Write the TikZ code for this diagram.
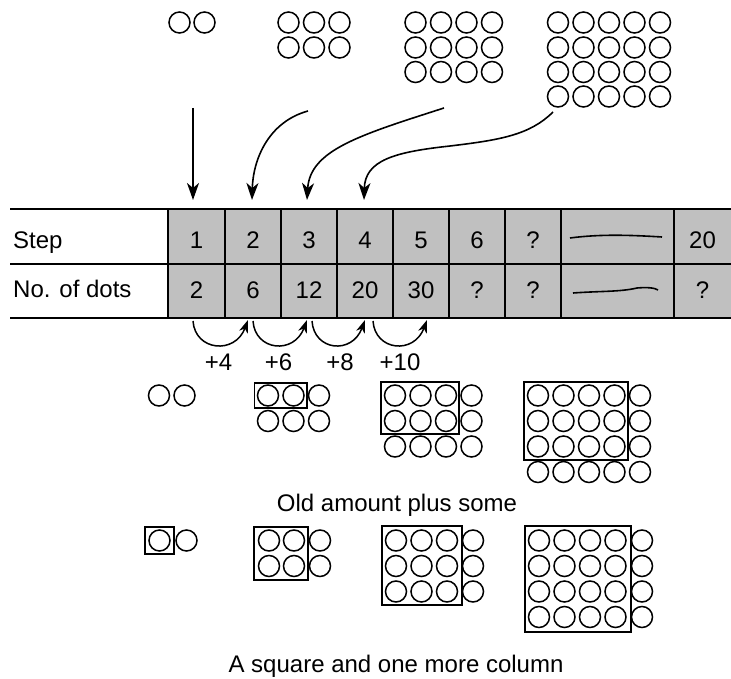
\documentclass[tikz,border=0pt]{standalone}
\usepackage{fontspec}
\setmainfont{Liberation Sans}
\usetikzlibrary{arrows.meta}
\definecolor{cellgray}{RGB}{192,192,192}
\begin{document}
\begin{tikzpicture}[x=1pt,y=-1pt,
  font=\fontsize{24}{28}\selectfont,
  dotc/.style={line width=1.5pt},
  boxl/.style={line width=1.7pt},
  tline/.style={line width=2pt},
  arr/.style={line width=1.6pt,-{Stealth[length=17pt,width=12pt,inset=5pt]}},
  arcarr/.style={line width=1.5pt,-{Stealth[length=13pt,width=9pt,inset=4pt]}},
  cellnode/.style={minimum height=54.5pt, inner sep=0pt, outer sep=0pt},
  num/.style={anchor=base, inner sep=0pt},
]
\useasboundingbox (0,0) rectangle (731,679);

% ---------- top dot groups ----------
\foreach \x in {179.5,204.5} \draw[dotc] (\x,22.5) circle (10.5pt);
\foreach \x in {288.5,314,339.5} \foreach \y in {22.5,47.5} \draw[dotc] (\x,\y) circle (10.5pt);
\foreach \x in {415.5,441,466.5,492} \foreach \y in {22.5,47.5,72} \draw[dotc] (\x,\y) circle (10.5pt);
\foreach \x in {558,583.5,609,634.5,660} \foreach \y in {22.5,47.5,72,96.5} \draw[dotc] (\x,\y) circle (10.5pt);

% ---------- table ----------
\fill[cellgray] (168,209) rectangle (731,318);
\node[cellnode, minimum width=57pt] (cS1) at (196.5,236.25) {};
\node[cellnode, minimum width=56pt] (cS2) at (253,236.25) {};
\node[cellnode, minimum width=56pt] (cS3) at (309,236.25) {};
\node[cellnode, minimum width=56pt] (cS4) at (365,236.25) {};
\node[cellnode, minimum width=57pt] (cD1) at (196.5,290.75) {};
\node[cellnode, minimum width=56pt] (cD2) at (253,290.75) {};
\node[cellnode, minimum width=56pt] (cD3) at (309,290.75) {};
\node[cellnode, minimum width=56pt] (cD4) at (365,290.75) {};
\node[cellnode, minimum width=56pt] (cD5) at (421,290.75) {};

\draw[tline] (10,209) -- (731,209);
\draw[tline] (10,263.5) -- (731,263.5);
\draw[tline] (10,318) -- (731,318);
\foreach \x in {168,225,281,337,393,449,505,561,674} \draw[tline] (\x,209) -- (\x,318);

\node[anchor=base west, inner sep=0pt] (lstep) at (13,248) {Step};
\node[anchor=base west, inner sep=0pt] (ldots) at (13,298) {No. of dots};

\node[num] (s1) at (196.5,248) {1};
\node[num] (s2) at (253,248) {2};
\node[num] (s3) at (309,248) {3};
\node[num] (s4) at (365,248) {4};
\node[num] (s5) at (421,248) {5};
\node[num] (s6) at (477,248) {6};
\node[num] (s7) at (533,248) {?};
\node[num] (s9) at (702.5,248) {20};
\node[num] (d1) at (196.5,298.5) {2};
\node[num] (d2) at (253,298.5) {6};
\node[num] (d3) at (309,298.5) {12};
\node[num] (d4) at (365,298.5) {20};
\node[num] (d5) at (421,298.5) {30};
\node[num] (d6) at (477,298.5) {?};
\node[num] (d7) at (533,298.5) {?};
\node[num] (d9) at (702.5,298.5) {?};
\draw[line width=1.6pt] (570,238) .. controls (600,234) and (630,235) .. (662,237);
\draw[line width=1.6pt] (573,293) .. controls (600,291) and (620,292) .. (637,288) .. controls (648,287) and (655,288) .. (658,290);

% ---------- arrows from dot groups to table ----------
\coordinate (a1s) at (193,108);  \coordinate (a1e) at (193,200);
\coordinate (a2s) at (308,111);  \coordinate (a2e) at (252,200);
\coordinate (a3s) at (444,108);  \coordinate (a3e) at (307,200);
\coordinate (a4s) at (553,112);  \coordinate (a4m) at (450,146); \coordinate (a4e) at (364,200);
\draw[arr] (a1s) -- (a1e);
\draw[arr] (a2s) .. controls (268,122) and (253,160) .. (a2e);
\draw[arr] (a3s) .. controls (360,135) and (310,150) .. (a3e);
\draw[arr] (a4s) .. controls (530,135) and (500,140) .. (a4m) .. controls (395,152) and (365,160) .. (a4e);

% ---------- difference arcs ----------
\coordinate (b1s) at (193,321); \coordinate (b1e) at (248,320);
\coordinate (b2s) at (253,321); \coordinate (b2e) at (307,320);
\coordinate (b3s) at (312,321); \coordinate (b3e) at (365,320);
\coordinate (b4s) at (373,321); \coordinate (b4e) at (427,320);
\foreach \i in {1,2,3,4}
  \draw[arcarr] (b\i s) .. controls +(2,30) and +(-13,35) .. (b\i e);
\node[num] (p4) at (218.5,370) {+4};
\node[num] (p6) at (278.5,370) {+6};
\node[num] (p8) at (340,370) {+8};
\node[num] (p10) at (400,370) {+10};

% ---------- old amount plus some ----------
\foreach \x in {159,184.5} \draw[dotc] (\x,395.5) circle (10.5pt);
\foreach \x in {268,293.5,319} \foreach \y in {395.5,421} \draw[dotc] (\x,\y) circle (10.5pt);
\draw[boxl] (254.5,383) rectangle (307,408);
\foreach \x in {395,420.5,446,471.5} \foreach \y in {395.5,421,446.5} \draw[dotc] (\x,\y) circle (10.5pt);
\draw[boxl] (381,382) rectangle (459,434);
\foreach \x in {538,563.5,589,614.5,640} \foreach \y in {395.5,421,446.5,472} \draw[dotc] (\x,\y) circle (10.5pt);
\draw[boxl] (524,382) rectangle (628,460);
\node[num] (old) at (397,511) {Old amount plus some};

% ---------- a square and one more column ----------
\draw[dotc] (159.5,540.5) circle (10.5pt);
\draw[dotc] (186.5,540.5) circle (10.5pt);
\draw[boxl] (145,527) rectangle (174,554);
\foreach \x in {269,294,320} \foreach \y in {540.5,566} \draw[dotc] (\x,\y) circle (10.5pt);
\draw[boxl] (254,527) rectangle (308,580);
\foreach \x in {396,421.5,447,473} \foreach \y in {540.5,566,591.5} \draw[dotc] (\x,\y) circle (10.5pt);
\draw[boxl] (382,526) rectangle (462,605);
\foreach \x in {539,564.5,590,615.5,642} \foreach \y in {540.5,566,591.5,617} \draw[dotc] (\x,\y) circle (10.5pt);
\draw[boxl] (525,526) rectangle (631,632);
\node[num] (sq) at (396,672) {A square and one more column};
\end{tikzpicture}
\end{document}
